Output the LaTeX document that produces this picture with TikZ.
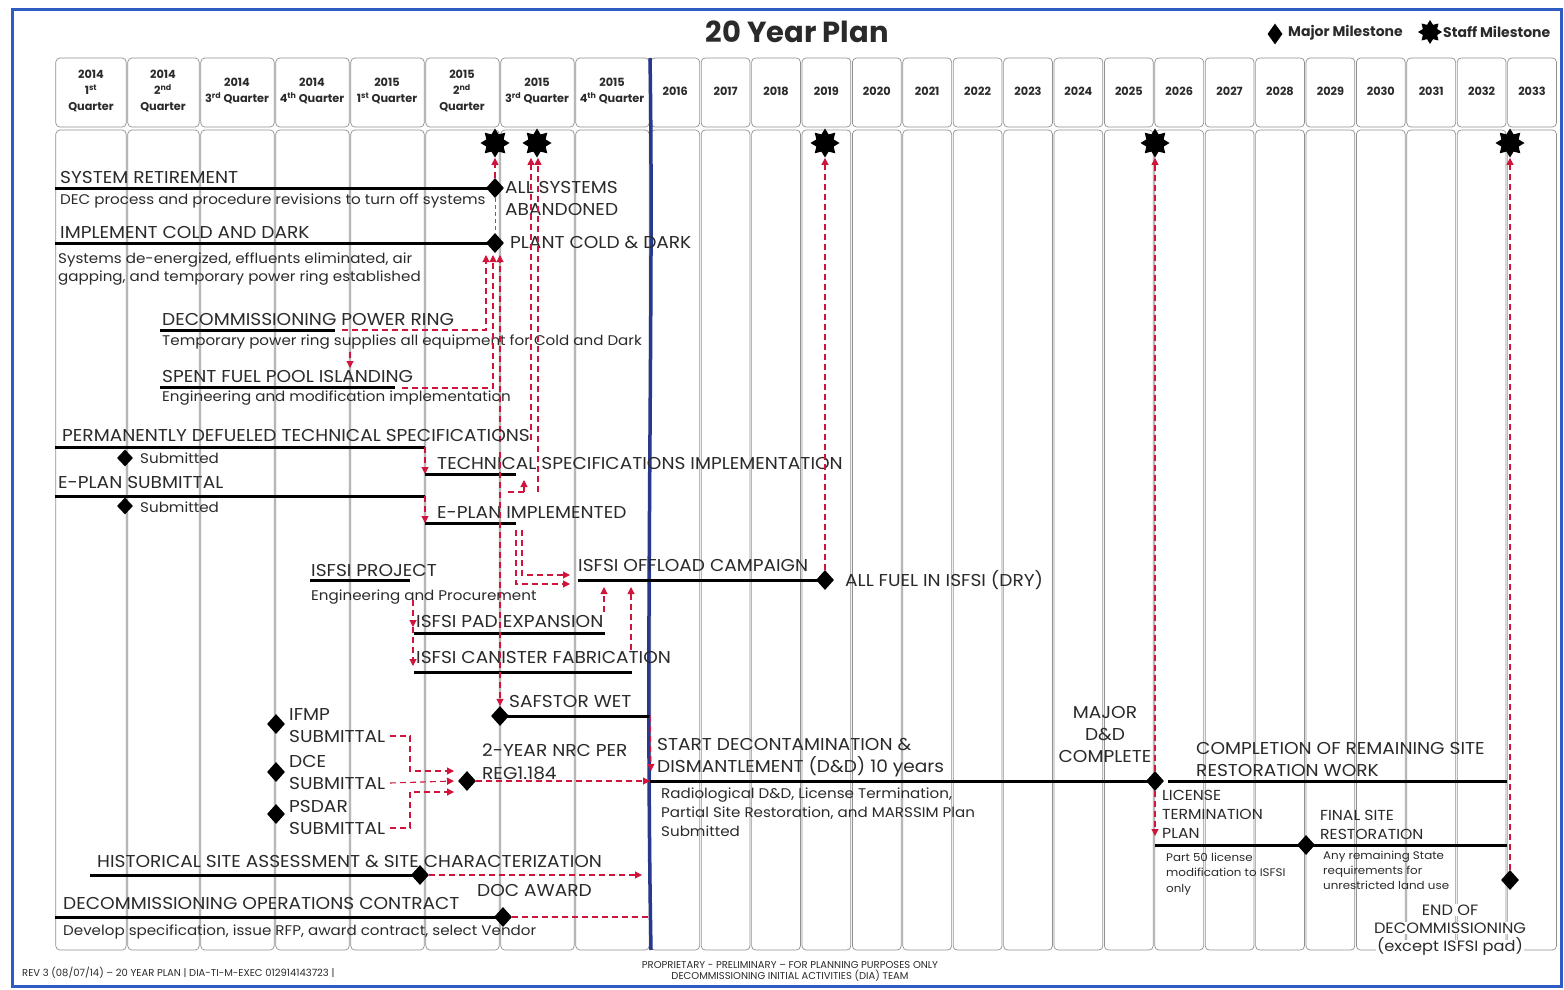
\documentclass[tikz,border=0pt]{standalone}
\usepackage{fontspec}
\setmainfont{Poppins}
\newfontfamily\wfont[FakeStretch=1.08]{Poppins}
\usetikzlibrary{shapes.geometric,arrows.meta}
\definecolor{rd}{HTML}{D0143C}
\definecolor{navy}{HTML}{27388F}
\definecolor{bord}{HTML}{2F5CC2}
\definecolor{gridc}{HTML}{909090}
\definecolor{ink}{HTML}{2A2A2A}
\tikzset{
  cell/.style={draw=gridc, line width=0.7pt, rounded corners=4pt},
  big/.style={inner sep=0pt, anchor=west, text=ink, font=\wfont\fontsize{17.2}{20}\selectfont, text height=12pt, text depth=0pt},
  bigc/.style={big, anchor=center},
  mid/.style={big, font=\wfont\fontsize{14.5}{17}\selectfont, text height=10.1pt},
  midc/.style={big, anchor=center, font=\wfont\fontsize{15}{17}\selectfont, text height=10.5pt},
  sm/.style={inner sep=0pt, anchor=west, text=ink, font=\wfont\fontsize{14}{16}\selectfont, text height=9.8pt, text depth=0pt},
  tiny/.style={inner sep=0pt, anchor=west, text=ink, font=\wfont\fontsize{11}{13}\selectfont, text height=7.7pt, text depth=0pt},
  hdr/.style={inner sep=0pt, align=center, font=\fontsize{11.3}{16}\selectfont\bfseries, text=ink},
  leg/.style={inner sep=0pt, anchor=west, font=\fontsize{14}{16}\selectfont\bfseries, text=ink},
  bar/.style={line width=3pt, black},
  mdia/.style={diamond, fill=black, inner sep=0pt, minimum width=18pt, minimum height=20pt},
  sdia/.style={mdia, minimum width=16pt, minimum height=17pt},
  stf/.style={star, star points=8, star point ratio=1.55, fill=black, inner sep=0pt, minimum size=29pt},
  rdash/.style={draw=rd, line width=1.1pt, dash pattern=on 6pt off 4pt},
  rar/.style={rdash, -{Triangle[length=7pt,width=7pt]}},
  kdash/.style={draw=gridc!70!black, line width=0.8pt, dash pattern=on 4pt off 3pt},
  foot/.style={inner sep=0pt, font=\fontsize{10}{11}\selectfont, text=ink}
}
\begin{document}
\begin{tikzpicture}[x=1pt,y=-1pt]
\useasboundingbox (0,0) rectangle (1564,990);
\draw[bord, line width=3pt] (12,10) rectangle (1561,986);
% title and legend
\node[font=\fontsize{29}{32}\selectfont\bfseries, text=ink, inner sep=0pt] (title) at (797,32) {20 Year Plan};
\node[mdia, minimum width=15pt, minimum height=21pt] (lgd) at (1275,34) {};
\node[leg] (lgt1) at (1288,33) {Major Milestone};
\node[stf, minimum size=24pt] (lgs) at (1430,32) {};
\node[leg] (lgt2) at (1443,32) {Staff Milestone};
% grid
\foreach \a/\b in {55/127,127/200,200/275,275/350,350/425,425/500,500/575,575/650}{
  \draw[cell] (\a+0.8,58) rectangle (\b-0.8,127);
  \draw[cell] (\a+0.8,130) rectangle (\b-0.8,950);
}
\foreach \i in {0,...,17}{
  \draw[cell] (650.8+50.4*\i,58) rectangle (649.2+50.4*\i+50.4,127);
  \draw[cell] (650.8+50.4*\i,130) rectangle (649.2+50.4*\i+50.4,950);
  \node[hdr] (yr\i) at (675.2+50.4*\i,91) {\the\numexpr2016+\i\relax};
}
\node[hdr] (q1) at (91,91) {2014\\1\textsuperscript{st}\\Quarter};
\node[hdr] (q2) at (163,91) {2014\\2\textsuperscript{nd}\\Quarter};
\node[hdr] (q3) at (237,91) {2014\\3\textsuperscript{rd} Quarter};
\node[hdr] (q4) at (312,91) {2014\\4\textsuperscript{th} Quarter};
\node[hdr] (q5) at (387,91) {2015\\1\textsuperscript{st} Quarter};
\node[hdr] (q6) at (462,91) {2015\\2\textsuperscript{nd}\\Quarter};
\node[hdr] (q7) at (537,91) {2015\\3\textsuperscript{rd} Quarter};
\node[hdr] (q8) at (612,91) {2015\\4\textsuperscript{th} Quarter};
% blue divider
\draw[navy, line width=3.5pt] (650,58) .. controls (654,300) and (645,620) .. (651,950);
% staff milestones
\node[stf] (s1) at (495,143) {};
\node[stf] (s2) at (537,143) {};
\node[stf] (s3) at (825,143) {};
\node[stf] (s4) at (1155,143) {};
\node[stf] (s5) at (1510,143) {};

% SYSTEM RETIREMENT
\node[big] (t1) at (60,177) {SYSTEM RETIREMENT};
\coordinate (b1) at (55,188);
\node[mdia] (d1) at (495,188) {};
\draw[bar] (b1) -- (d1.center);
\node[sm] (t1s) at (60,200) {DEC process and procedure revisions to turn off systems};
\node[big] (t1m) at (505,187) {ALL SYSTEMS};
\node[big] (t1m2) at (505,209) {ABANDONED};
% COLD AND DARK
\node[big] (t2) at (60,232) {IMPLEMENT COLD AND DARK};
\coordinate (b2) at (55,243);
\node[mdia] (d2) at (495,243) {};
\draw[bar] (b2) -- (d2.center);
\draw[kdash] (d1.south) -- (d2.north);
\node[big] (t2m) at (510,242) {PLANT COLD \& DARK};
\node[sm] (t2s) at (58,259) {Systems de-energized, effluents eliminated, air};
\node[sm] (t2s2) at (58,277) {gapping, and temporary power ring established};
% POWER RING
\node[big] (t3) at (162,319) {DECOMMISSIONING POWER RING};
\coordinate (b3a) at (160,330); \coordinate (b3b) at (335,330);
\draw[bar] (b3a) -- (b3b);
\node[sm] (t3s) at (162,341) {Temporary power ring supplies all equipment for Cold and Dark};
% SPENT FUEL POOL
\node[big] (t4) at (162,376) {SPENT FUEL POOL ISLANDING};
\coordinate (b4a) at (160,387); \coordinate (b4b) at (395,387);
\draw[bar] (b4a) -- (b4b);
\node[sm] (t4s) at (162,397) {Engineering and modification implementation};
\coordinate (pr-dn) at (350,352); \coordinate (pr-dn2) at (350,368);
\draw[rar] (pr-dn) -- (pr-dn2);
% links to PLANT COLD & DARK
\coordinate (pcda) at (486,255); \coordinate (pcdb) at (493,255); \coordinate (pcdc) at (500,255);
\coordinate (pr-e) at (342,330); \coordinate (sf-e) at (402,388);
\draw[rar] (pr-e) -| (pcda);
\draw[rar] (sf-e) -| (pcdb);
\coordinate (tsup) at (500,442);
\draw[rar] (tsup) -- (pcdc);
\draw[rar] (d1.north) -- (s1.south);
% PD TECH SPECS
\node[big] (t5) at (62,435) {PERMANENTLY DEFUELED TECHNICAL SPECIFICATIONS};
\coordinate (b5a) at (55,447); \coordinate (b5b) at (425,447);
\draw[bar] (b5a) -- (b5b);
\node[sdia] (d5) at (125,458) {};
\node[sm] (t5s) at (140,459) {Submitted};
\node[big] (t6) at (437,463) {TECHNICAL SPECIFICATIONS IMPLEMENTATION};
\coordinate (b6a) at (425,474); \coordinate (b6b) at (516,474);
\draw[bar] (b6a) -- (b6b);
\draw[rar] (b5b) -- (b6a);
% E-PLAN
\node[big] (t7) at (58,482) {E-PLAN SUBMITTAL};
\coordinate (b7a) at (55,496); \coordinate (b7b) at (425,496);
\draw[bar] (b7a) -- (b7b);
\node[sdia] (d7) at (125,506) {};
\node[sm] (t7s) at (140,508) {Submitted};
\node[big] (t8) at (437,512) {E-PLAN IMPLEMENTED};
\coordinate (b8a) at (425,523); \coordinate (b8b) at (516,523);
\draw[bar] (b8a) -- (b8b);
\draw[rar] (b7b) -- (b8a);
% links to staff milestone 2
\coordinate (s2a) at (531,440); \coordinate (s2b) at (538,492);
\draw[rar] (s2a) -- (s2a |- s2.south);
\draw[rar] (s2b) -- (s2b |- s2.south);
\coordinate (ep1) at (508,492); \coordinate (ep2) at (524,492); \coordinate (ep3) at (524,480);
\draw[rdash] (ep1) -- (ep2);
\draw[rar] (ep2) -- (ep3);
% ISFSI
\node[big] (t9) at (311,570) {ISFSI PROJECT};
\coordinate (b9a) at (310,580); \coordinate (b9b) at (410,580);
\draw[bar] (b9a) -- (b9b);
\node[sm] (t9s) at (311,596) {Engineering and Procurement};
\node[big] (t10) at (578,565) {ISFSI OFFLOAD CAMPAIGN};
\coordinate (b10a) at (578,580);
\node[mdia] (d10) at (825,580) {};
\draw[bar] (b10a) -- (d10.center);
\node[big] (t10m) at (845,580) {ALL FUEL IN ISFSI (DRY)};
\draw[rar] (d10.north) -- (s3.south);
\coordinate (of1) at (522,530); \coordinate (of1e) at (570,575);
\coordinate (of2) at (516,530); \coordinate (of2e) at (570,584);
\draw[rar] (of1) |- (of1e);
\draw[rar] (of2) |- (of2e);
\node[big] (t11) at (416,621) {ISFSI PAD EXPANSION};
\coordinate (b11a) at (414,633); \coordinate (b11b) at (605,633);
\draw[bar] (b11a) -- (b11b);
\node[big] (t12) at (416,657) {ISFSI CANISTER FABRICATION};
\coordinate (b12a) at (414,672); \coordinate (b12b) at (632,672);
\draw[bar] (b12a) -- (b12b);
\coordinate (pd1) at (604,612); \coordinate (pd2) at (604,587);
\coordinate (cn1) at (631,650); \coordinate (cn2) at (631,587);
\draw[rar] (pd1) -- (pd2);
\draw[rar] (cn1) -- (cn2);
\coordinate (ip1) at (413,600); \coordinate (ip2) at (413,627); \coordinate (ip3) at (413,666);
\draw[rar] (ip1) -- (ip2);
\draw[rar] (ip2) -- (ip3);
% SAFSTOR
\node[big] (t13) at (509,701) {SAFSTOR WET};
\node[mdia] (d13) at (500,716) {};
\coordinate (b13b) at (650,716);
\draw[bar] (d13.center) -- (b13b);
\coordinate (sw1) at (500,452);
\draw[rar] (sw1) -- (d13.north);
\coordinate (ddtop) at (651,771);
\draw[rar] (b13b) -- (ddtop);
% submittals
\node[mdia] (d14) at (276,724) {};
\node[big] (t14) at (289,714) {IFMP};
\node[big] (t14b) at (289,736) {SUBMITTAL};
\node[mdia] (d15) at (276,772) {};
\node[big] (t15) at (289,761) {DCE};
\node[big] (t15b) at (289,783) {SUBMITTAL};
\node[mdia] (d16) at (276,814) {};
\node[big] (t16) at (289,806) {PSDAR};
\node[big] (t16b) at (289,828) {SUBMITTAL};
\node[mdia] (d17) at (467,781) {};
\node[big] (t17) at (482,750) {2-YEAR NRC PER};
\node[big] (t17b) at (482,773) {REG1.184};
\coordinate (if1) at (390,736); \coordinate (ifm) at (410,736); \coordinate (if2) at (454,771);
\coordinate (dc1) at (390,783); \coordinate (dc2) at (454,781);
\coordinate (ps1) at (390,828); \coordinate (psm) at (410,828); \coordinate (ps2) at (454,792);
\draw[rar] (if1) -- (ifm) |- (if2);
\draw[rar] (dc1) -- (dc2);
\draw[rar] (ps1) -- (psm) |- (ps2);
\coordinate (dd0) at (650,781);
\draw[rar] (d17.east) -- (dd0);
% D&D
\node[big] (t18) at (657,744) {START DECONTAMINATION \&};
\node[big] (t18b) at (657,766) {DISMANTLEMENT (D\&D) 10 years};
\node[mdia] (d18) at (1155,781) {};
\draw[bar] (dd0) -- (d18.center);
\node[sm] (t18s) at (661,794) {Radiological D\&D, License Termination,};
\node[sm] (t18s2) at (661,813) {Partial Site Restoration, and MARSSIM Plan};
\node[sm] (t18s3) at (661,832) {Submitted};
\node[bigc] (t19) at (1105,712) {MAJOR};
\node[bigc] (t19b) at (1105,734) {D\&D};
\node[bigc] (t19c) at (1105,756) {COMPLETE};
\draw[rar] (d18.north) -- (s4.south);
% completion
\node[big] (t20) at (1196,748) {COMPLETION OF REMAINING SITE};
\node[big] (t20b) at (1196,770) {RESTORATION WORK};
\coordinate (b20a) at (1168,781); \coordinate (b20b) at (1507,781);
\draw[bar] (b20a) -- (b20b);
\node[mid] (t21) at (1162,795) {LICENSE};
\node[mid] (t21b) at (1162,814) {TERMINATION};
\node[mid] (t21c) at (1162,833) {PLAN};
\coordinate (b21a) at (1155,845); \coordinate (b21b) at (1507,845);
\coordinate (lt) at (1155,836);
\draw[rar] (d18.south) -- (lt);
\draw[bar] (b21a) -- (b21b);
\node[mdia] (d22) at (1306,845) {};
\node[mid] (t22) at (1320,815) {FINAL SITE};
\node[mid] (t22b) at (1320,834) {RESTORATION};
\node[tiny] (t23) at (1166,858) {Part 50 license};
\node[tiny] (t23b) at (1166,873) {modification to ISFSI};
\node[tiny] (t23c) at (1166,889) {only};
\node[tiny] (t24) at (1323,856) {Any remaining State};
\node[tiny] (t24b) at (1323,871) {requirements for};
\node[tiny] (t24c) at (1323,886) {unrestricted land use};
\node[mdia] (d25) at (1510,880) {};
\draw[rar] (d25.north) -- (s5.south);
\node[midc, fill=white, inner sep=1pt] (t25) at (1450,910) {END OF};
\node[midc, fill=white, inner sep=1pt] (t25b) at (1450,928) {DECOMMISSIONING};
\node[midc, fill=white, inner sep=1pt] (t25c) at (1450,946) {(except ISFSI pad)};
% HSA
\node[big] (t26) at (97,861) {HISTORICAL SITE ASSESSMENT \& SITE CHARACTERIZATION};
\coordinate (b26a) at (90,875);
\node[mdia] (d26) at (420,875) {};
\draw[bar] (b26a) -- (d26.center);
\coordinate (h2) at (642,875);
\draw[rar] (d26.east) -- (h2);
% DOC
\node[big] (t27) at (477,890) {DOC AWARD};
\node[big] (t28) at (63,903) {DECOMMISSIONING OPERATIONS CONTRACT};
\coordinate (b28a) at (55,917);
\node[mdia] (d28) at (503,917) {};
\draw[bar] (b28a) -- (d28.center);
\coordinate (dc3) at (650,917);
\draw[rdash] (d28.east) -- (dc3);
\node[sm] (t28s) at (63,931) {Develop specification, issue RFP, award contract, select Vendor};
% footer
\node[foot, anchor=west] (ft1) at (22,973) {REV 3 (08/07/14) -- 20 YEAR PLAN | DIA-TI-M-EXEC 012914143723 |};
\node[foot, align=center] (ft2) at (790,971) {PROPRIETARY - PRELIMINARY -- FOR PLANNING PURPOSES ONLY\\DECOMMISSIONING INITIAL ACTIVITIES (DIA) TEAM};
\end{tikzpicture}
\end{document}
